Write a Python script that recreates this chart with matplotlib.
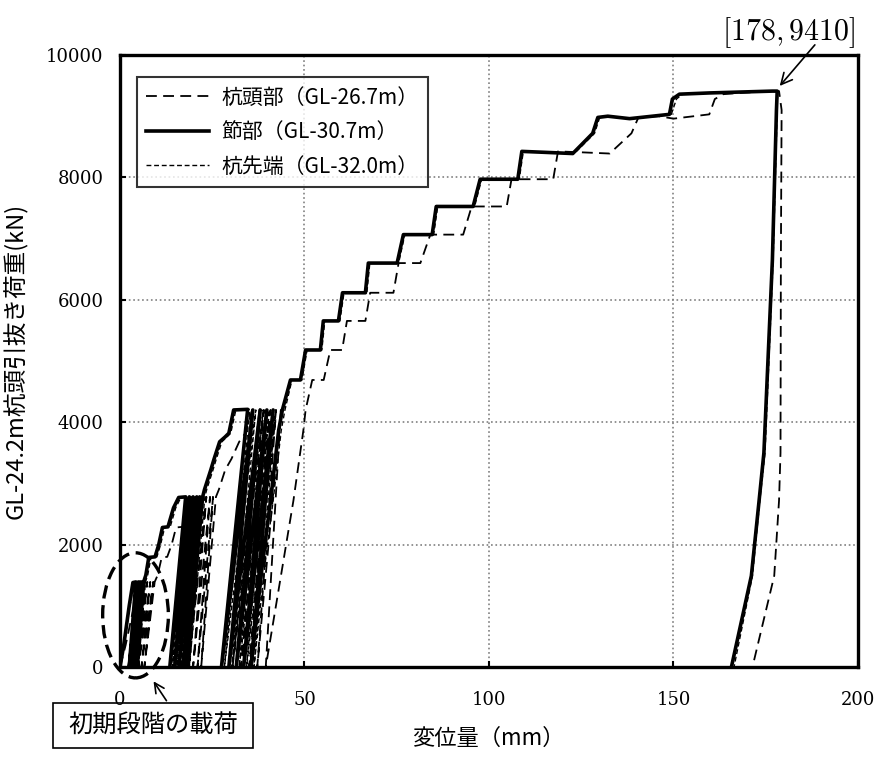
import matplotlib
matplotlib.use('Agg')
import matplotlib.pyplot as plt
from matplotlib.patches import Ellipse, Rectangle

plt.rcParams['font.family'] = ['Noto Sans CJK JP', 'DejaVu Sans']
plt.rcParams['mathtext.fontset'] = 'cm'

# load history (kN), shared by the three gauges
load_kN = [0, 350, 1000, 1380, 1390,
           0, 1390, 0, 1390, 0, 1390, 0,
           1390, 1500, 1790, 1800, 2000, 2280, 2290, 2600, 2770, 2780,
           0, 2780, 0, 2780, 0, 2780, 0, 2780, 0,
           2780, 2900, 3220, 3400, 3680, 3760, 3820, 4200, 4210,
           0, 4200, 0, 4200, 0, 4200, 0, 4200, 0,
           1630, 2720, 3870, 4200,
           4690, 4690, 5180, 5180, 5655, 5655, 6115, 6115, 6600, 6600, 7065, 7065,
           7525, 7525, 7970, 7970, 8425, 8410, 8390,
           8720, 8980, 9000, 8960, 9030, 9280, 9360, 9380, 9410, 9410,
           9100, 6650, 3500, 2720, 1490, 0]

# displacement (mm) at pile head GL-26.7m
disp_head = [0, 1.5, 3.8, 5.6, 6.8,
             4.2, 7.4, 5.0, 8.2, 5.8, 9.0, 6.6,
             9.4, 10.2, 11.3, 12.8, 14.0, 15.2, 17.0, 18.6, 20.0, 21.6,
             17.2, 22.4, 18.6, 23.4, 19.8, 24.4, 21.0, 25.2, 22.0,
             26.0, 26.8, 28.5, 30.2, 32.3, 33.2, 34.0, 35.8, 37.8,
             30.5, 39.0, 32.8, 40.8, 35.0, 42.3, 37.2, 43.6, 39.5,
             44.0, 47.0, 49.7, 50.3,
             52.1, 55.2, 57.0, 60.2, 61.5, 66.5, 67.8, 74.1, 75.5, 81.4, 84.1, 93.0,
             95.3, 104.8, 106.1, 117.4, 118.7, 125.0, 132.7,
             138.6, 140.5, 146.0, 150.0, 159.7, 161.2, 163.5, 168.0, 176.8, 178.6,
             179.3, 179.1, 179.0, 178.6, 177.3, 171.4]

# displacement (mm) at joint GL-30.7m
disp_joint = [0, 1.0, 2.5, 3.5, 4.3,
              2.5, 5.0, 3.2, 5.6, 3.9, 6.2, 4.6,
              6.4, 7.0, 7.8, 9.5, 10.5, 11.5, 13.0, 14.5, 15.9, 17.8,
              13.5, 18.8, 14.8, 19.8, 16.0, 20.8, 17.2, 21.6, 18.2,
              22.4, 22.9, 24.6, 25.5, 27.0, 28.5, 29.5, 30.8, 34.6,
              27.5, 36.0, 29.5, 38.0, 31.5, 39.8, 33.5, 41.5, 35.5,
              38.5, 40.8, 43.0, 44.0,
              46.2, 48.9, 50.3, 54.3, 55.1, 59.2, 60.3, 66.5, 67.3, 75.1, 76.8, 84.6,
              85.7, 95.7, 97.6, 107.8, 108.9, 115.0, 122.7,
              128.1, 129.5, 132.2, 138.1, 148.9, 149.7, 151.6, 159.7, 176.8, 178.1,
              177.9, 176.8, 174.5, 173.2, 171.1, 165.7]

# displacement (mm) at pile tip GL-32.0m
disp_tip = [0, 1.1, 2.7, 3.8, 4.7,
            2.9, 5.4, 3.6, 6.0, 4.3, 6.6, 5.0,
            6.9, 7.5, 8.4, 10.0, 11.0, 12.1, 13.6, 15.1, 16.5, 18.3,
            14.2, 19.4, 15.4, 20.4, 16.6, 21.4, 17.8, 22.2, 18.8,
            23.0, 23.5, 25.2, 26.1, 27.6, 29.0, 30.0, 31.4, 35.2,
            28.3, 36.8, 30.3, 38.8, 32.3, 40.5, 34.3, 42.2, 36.3,
            39.2, 41.5, 43.7, 44.7,
            46.6, 49.3, 50.7, 54.7, 55.5, 59.6, 60.7, 66.9, 67.7, 75.5, 77.2, 85.0,
            86.1, 96.1, 98.0, 108.2, 109.3, 115.4, 123.1,
            128.6, 130.0, 132.7, 138.6, 149.4, 150.8, 152.4, 160.0, 176.9, 178.2,
            178.1, 177.0, 174.8, 173.4, 171.4, 166.4]

labels = ['杭頭部（GL-26.7m）', '節部（GL-30.7m）', '杭先端（GL-32.0m）']
peak_disp, peak_load = 178, 9410

fig = plt.figure(figsize=(8.78, 7.62), dpi=100)
ax = fig.add_axes([120/878, 1-667/762, 738/878, 612/762])

ax.plot(disp_head, load_kN, color='black', lw=1.3, ls=(0, (6, 3.5)), label=labels[0], zorder=3)
ax.plot(disp_joint, load_kN, color='black', lw=2.6, label=labels[1], zorder=2)
ax.plot(disp_tip, load_kN, color='black', lw=1.0, ls=(0, (3.5, 2)), label=labels[2], zorder=4)

ax.set_xlim(0, 200)
ax.set_ylim(0, 10000)
ax.set_xticks([0, 50, 100, 150, 200])
ax.set_yticks([0, 2000, 4000, 6000, 8000, 10000])
ax.grid(True, ls=':', color='gray', lw=1.2)
ax.set_axisbelow(True)
for s in ax.spines.values():
    s.set_linewidth(2.4)
ax.tick_params(direction='in', length=4, width=1.5, labelsize=13, pad=12,
               labelfontfamily='DejaVu Serif')
ax.tick_params(axis='x', pad=17)

ax.set_xlabel('変位量（mm）', fontsize=16)
ax.xaxis.set_label_coords(0.499, -0.098)
ax.set_ylabel('GL-24.2m杭頭引抜き荷重(kN)', fontsize=17)
ax.yaxis.set_label_coords(-0.125, 0.5)

leg = ax.legend(loc='upper left', bbox_to_anchor=(0.023, 0.964), borderaxespad=0,
                fontsize=15, fancybox=False, handlelength=3.0, handletextpad=0.6,
                labelspacing=0.6, borderpad=0.45)
leg.get_frame().set_edgecolor('black')
leg.get_frame().set_linewidth(1.5)

# peak annotation
ax.text(181.3, 10361, r'$[178,9410]$', fontsize=21.5, ha='center', va='center')
ax.annotate('', xy=(peak_disp + 0.3, peak_load + 50), xytext=(188.8, 10200),
            arrowprops=dict(arrowstyle='->,head_length=0.8,head_width=0.4', lw=1.2, color='black'),
            annotation_clip=False)

# initial loading ellipse + note
ax.add_patch(Ellipse((4.2, 844), 17.8, 2044, fill=False, ec='black', lw=2.4,
                     ls=(0, (4, 2)), clip_on=False, zorder=5))
fig.patches.append(Rectangle((53/878, 1-748/762), 200/878, 45/762, transform=fig.transFigure,
                             fill=False, ec='black', lw=1.2))
fig.text(153/878, 1-726/762, '初期段階の載荷', fontsize=17.5, ha='center', va='center')
ax.annotate('', xy=(152, 762-679), xytext=(168, 762-703), xycoords='figure pixels',
            textcoords='figure pixels',
            arrowprops=dict(arrowstyle='->,head_length=0.7,head_width=0.35', lw=1.2, color='black'))

fig.savefig('out.png', dpi=100)
